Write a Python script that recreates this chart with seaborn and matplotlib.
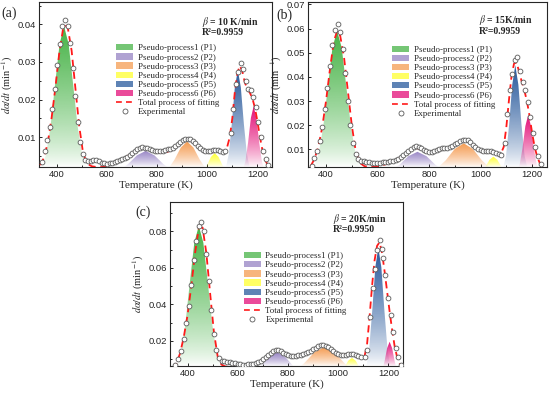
import numpy as np
import matplotlib
matplotlib.use("Agg")
import matplotlib.pyplot as plt
import matplotlib.colors as mcolors
from matplotlib.patches import Patch
from matplotlib.lines import Line2D
from matplotlib.ticker import MultipleLocator
import seaborn as sns

# ---------------- data ----------------
labels = ["Pseudo-process1 (P1)", "Pseudo-process2 (P2)", "Pseudo-process3 (P3)",
          "Pseudo-process4 (P4)", "Pseudo-process5 (P5)", "Pseudo-process6 (P6)"]
peak_colors = ["#47b347", "#9683c4", "#f59c52", "#ffff30", "#28599c", "#e30f78"]

# (a) 10 K/min
a_exp_T = [343, 353, 363, 373, 383, 393, 403, 413, 421, 433, 444, 453, 464, 475, 484, 495, 504, 515,
           525, 536, 547, 557, 568, 579, 589, 600, 611, 621, 632, 642, 652, 662, 672, 682, 692, 702,
           712, 722, 732, 742, 752, 762, 772, 782, 792, 802, 812, 822, 832, 842, 852, 862, 872, 882,
           892, 902, 912, 922, 932, 942, 952, 962, 972, 982, 992, 1002, 1012, 1022, 1032, 1042, 1052,
           1062, 1072, 1093, 1104, 1113, 1123, 1133, 1143, 1153, 1163, 1173, 1183, 1193, 1203, 1213,
           1223, 1233, 1244]
a_exp = [0.0034, 0.0062, 0.0093, 0.0127, 0.0174, 0.0229, 0.0291, 0.0348, 0.0395, 0.0412, 0.0397,
         0.0350, 0.0284, 0.0209, 0.0141, 0.0088, 0.0055, 0.0040, 0.0037, 0.0035, 0.0038, 0.0040,
         0.0036, 0.0032, 0.0030, 0.0029, 0.0030, 0.0032, 0.0034, 0.0036, 0.0038, 0.0041, 0.0044,
         0.0048, 0.0052, 0.0057, 0.0062, 0.0067, 0.0071, 0.0073, 0.0072, 0.0071, 0.0068, 0.0065,
         0.0063, 0.0062, 0.0062, 0.0063, 0.0065, 0.0067, 0.0069, 0.0072, 0.0076, 0.0081, 0.0086,
         0.0091, 0.0094, 0.0095, 0.0094, 0.0090, 0.0084, 0.0077, 0.0070, 0.0065, 0.0062, 0.0062,
         0.0064, 0.0066, 0.0066, 0.0065, 0.0063, 0.0061, 0.0064, 0.0111, 0.0175, 0.0242, 0.0274,
         0.0298, 0.0282, 0.0249, 0.0229, 0.0226, 0.0207, 0.0180, 0.0140, 0.0100, 0.0064, 0.0042,
         0.0026]
a_fit_T = [335, 350, 365, 380, 395, 410, 425, 435, 445, 460, 475, 490, 505, 520, 540, 560, 580, 600,
           620, 640, 660, 680, 700, 720, 740, 760, 780, 800, 820, 840, 860, 880, 900, 920, 940, 960,
           980, 1000, 1020, 1040, 1060, 1075, 1090, 1100, 1110, 1120, 1130, 1140, 1150, 1160, 1170,
           1180, 1190, 1200, 1210, 1220, 1230, 1245]
a_fit = [0.0025, 0.0045, 0.0085, 0.0150, 0.0230, 0.0320, 0.0385, 0.0398, 0.0390, 0.0330, 0.0230,
         0.0130, 0.0060, 0.0030, 0.0022, 0.0020, 0.0020, 0.0022, 0.0026, 0.0032, 0.0040, 0.0048,
         0.0057, 0.0065, 0.0070, 0.0069, 0.0064, 0.0059, 0.0058, 0.0060, 0.0066, 0.0075, 0.0085,
         0.0091, 0.0088, 0.0078, 0.0067, 0.0060, 0.0059, 0.0061, 0.0060, 0.0062, 0.0100, 0.0150,
         0.0220, 0.0270, 0.0290, 0.0275, 0.0245, 0.0228, 0.0218, 0.0203, 0.0178, 0.0142, 0.0100,
         0.0065, 0.0040, 0.0020]
a_peaks_T = [[340, 358, 376, 394, 412, 430, 448, 466, 484, 502, 520],
             [615, 650, 685, 720, 755, 790, 825, 860, 895],
             [820, 845, 870, 895, 920, 945, 970, 995, 1020],
             [970, 985, 1000, 1015, 1030, 1045, 1060, 1075, 1090],
             [1062, 1074, 1086, 1098, 1110, 1122, 1134, 1146, 1158, 1170, 1182],
             [1141, 1152, 1163, 1174, 1185, 1196, 1207, 1218, 1229]]
a_peaks = [[0.0017, 0.0053, 0.0128, 0.0240, 0.0348, 0.0395, 0.0348, 0.0240, 0.0128, 0.0053, 0.0017],
           [0.00025, 0.0010, 0.0028, 0.0051, 0.0063, 0.0051, 0.0028, 0.0010, 0.00025],
           [0.0004, 0.0015, 0.0040, 0.0072, 0.0088, 0.0072, 0.0040, 0.0015, 0.0004],
           [0.00025, 0.0010, 0.0026, 0.0047, 0.0057, 0.0047, 0.0026, 0.0010, 0.00025],
           [0.0003, 0.0016, 0.0055, 0.0135, 0.0232, 0.0278, 0.0232, 0.0135, 0.0055, 0.0016, 0.0003],
           [0.0009, 0.0034, 0.0086, 0.0151, 0.0182, 0.0151, 0.0086, 0.0034, 0.0009]]

# (b) 15 K/min
b_exp_T = [345, 355, 365, 376, 385, 395, 405, 416, 425, 435, 445, 455, 465, 475, 485, 494, 505, 515,
           525, 535, 546, 556, 566, 577, 588, 599, 609, 620, 630, 640, 650, 660, 670, 680, 690, 700,
           710, 720, 730, 740, 750, 760, 770, 780, 790, 800, 810, 820, 830, 840, 850, 860, 870, 880,
           890, 900, 910, 920, 930, 940, 950, 960, 970, 980, 990, 1000, 1010, 1020, 1030, 1040, 1050,
           1060, 1070, 1080, 1094, 1103, 1113, 1124, 1133, 1143, 1153, 1164, 1173, 1183, 1193, 1202,
           1213, 1223, 1233]
b_exp = [0.0033, 0.0066, 0.0095, 0.0136, 0.0192, 0.0268, 0.0352, 0.0446, 0.0533, 0.0596, 0.0617,
         0.0586, 0.0515, 0.0414, 0.0301, 0.0200, 0.0125, 0.0082, 0.0060, 0.0053, 0.0050, 0.0049,
         0.0047, 0.0045, 0.0044, 0.0044, 0.0045, 0.0046, 0.0047, 0.0048, 0.0050, 0.0052, 0.0055,
         0.0060, 0.0067, 0.0075, 0.0084, 0.0094, 0.0103, 0.0109, 0.0112, 0.0110, 0.0105, 0.0098,
         0.0093, 0.0090, 0.0090, 0.0093, 0.0098, 0.0102, 0.0105, 0.0106, 0.0107, 0.0110, 0.0115,
         0.0121, 0.0128, 0.0134, 0.0138, 0.0140, 0.0137, 0.0130, 0.0120, 0.0110, 0.0102, 0.0096,
         0.0093, 0.0093, 0.0094, 0.0093, 0.0090, 0.0086, 0.0082, 0.0078, 0.0125, 0.0245, 0.0345,
         0.0411, 0.0469, 0.0483, 0.0426, 0.0377, 0.0345, 0.0294, 0.0232, 0.0166, 0.0108, 0.0072,
         0.0038]
b_fit_T = [340, 355, 370, 385, 400, 415, 430, 443, 455, 470, 485, 500, 515, 530, 550, 570, 590, 610,
           630, 650, 670, 690, 710, 730, 750, 770, 790, 810, 830, 850, 870, 890, 910, 930, 950, 970,
           990, 1010, 1030, 1050, 1065, 1080, 1090, 1100, 1110, 1120, 1130, 1140, 1150, 1160, 1170,
           1180, 1190, 1200, 1210, 1220, 1235]
b_fit = [0.0030, 0.0060, 0.0110, 0.0190, 0.0300, 0.0430, 0.0545, 0.0590, 0.0570, 0.0480, 0.0340,
         0.0200, 0.0095, 0.0045, 0.0030, 0.0027, 0.0028, 0.0032, 0.0038, 0.0045, 0.0055, 0.0068,
         0.0083, 0.0098, 0.0106, 0.0100, 0.0090, 0.0087, 0.0092, 0.0100, 0.0106, 0.0113, 0.0124,
         0.0133, 0.0132, 0.0118, 0.0102, 0.0093, 0.0092, 0.0090, 0.0084, 0.0085, 0.0110, 0.0190,
         0.0300, 0.0400, 0.0455, 0.0460, 0.0420, 0.0380, 0.0345, 0.0300, 0.0240, 0.0170, 0.0110,
         0.0070, 0.0030]
b_peaks_T = [[353, 371, 389, 407, 425, 443, 461, 479, 497, 515, 533],
             [615, 650, 685, 720, 755, 790, 825, 860, 895],
             [795, 830, 865, 900, 935, 970, 1005, 1040, 1075],
             [990, 1005, 1020, 1035, 1050, 1065, 1080, 1095, 1110],
             [1087, 1099, 1111, 1123, 1135, 1147, 1159, 1171, 1183],
             [1141, 1152, 1163, 1174, 1185, 1196, 1207, 1218, 1229]]
b_peaks = [[0.0026, 0.0080, 0.0192, 0.0358, 0.0521, 0.0590, 0.0521, 0.0358, 0.0192, 0.0080, 0.0026],
           [0.0002, 0.0012, 0.0036, 0.0072, 0.0090, 0.0072, 0.0036, 0.0012, 0.0002],
           [0.0005, 0.0020, 0.0055, 0.0102, 0.0125, 0.0102, 0.0055, 0.0020, 0.0005],
           [0.0002, 0.0010, 0.0030, 0.0057, 0.0070, 0.0057, 0.0030, 0.0010, 0.0002],
           [0.0018, 0.0074, 0.0202, 0.0367, 0.0448, 0.0367, 0.0202, 0.0074, 0.0018],
           [0.0008, 0.0037, 0.0105, 0.0196, 0.0242, 0.0196, 0.0105, 0.0037, 0.0008]]

# (c) 20 K/min
c_exp_T = [351, 363, 373, 384, 395, 404, 413, 424, 433, 444, 453, 464, 475, 485, 495, 505, 515, 525,
           536, 547, 557, 568, 579, 589, 600, 611, 621, 631, 641, 651, 661, 671, 681, 691, 701, 711,
           721, 731, 741, 751, 761, 771, 781, 791, 801, 811, 821, 831, 841, 851, 861, 871, 881, 891,
           901, 911, 921, 931, 941, 951, 961, 971, 981, 991, 1001, 1011, 1021, 1031, 1041, 1051, 1061,
           1071, 1081, 1091, 1105, 1116, 1126, 1137, 1146, 1156, 1167, 1174, 1180, 1188, 1199, 1210,
           1220, 1230, 1240, 1250]
c_exp = [0.0070, 0.0103, 0.0145, 0.0209, 0.0295, 0.0393, 0.0508, 0.0641, 0.0749, 0.0827, 0.0851,
         0.0802, 0.0678, 0.0530, 0.0368, 0.0236, 0.0152, 0.0107, 0.0090, 0.0088, 0.0086, 0.0085,
         0.0081, 0.0077, 0.0074, 0.0072, 0.0070, 0.0070, 0.0071, 0.0073, 0.0075, 0.0079, 0.0084,
         0.0091, 0.0099, 0.0110, 0.0122, 0.0134, 0.0144, 0.0150, 0.0150, 0.0144, 0.0135, 0.0127,
         0.0121, 0.0117, 0.0116, 0.0118, 0.0121, 0.0124, 0.0128, 0.0133, 0.0139, 0.0146, 0.0155,
         0.0163, 0.0170, 0.0175, 0.0177, 0.0174, 0.0166, 0.0155, 0.0143, 0.0133, 0.0127, 0.0124,
         0.0124, 0.0125, 0.0127, 0.0128, 0.0127, 0.0124, 0.0119, 0.0112, 0.0109, 0.0152, 0.0331,
         0.0490, 0.0596, 0.0696, 0.0751, 0.0705, 0.0654, 0.0560, 0.0437, 0.0344, 0.0249, 0.0160,
         0.0110, 0.0068]
c_fit_T = [340, 355, 370, 385, 400, 415, 430, 445, 460, 475, 490, 505, 520, 535, 550, 570, 590, 610,
           630, 650, 670, 690, 710, 730, 750, 770, 790, 810, 830, 850, 870, 890, 910, 930, 950, 970,
           990, 1010, 1030, 1050, 1070, 1090, 1105, 1115, 1125, 1135, 1145, 1155, 1165, 1175, 1185,
           1195, 1205, 1215, 1225, 1235, 1250]
c_fit = [0.0045, 0.0075, 0.0130, 0.0220, 0.0340, 0.0500, 0.0680, 0.0820, 0.0820, 0.0680, 0.0460,
         0.0250, 0.0115, 0.0070, 0.0060, 0.0058, 0.0060, 0.0064, 0.0068, 0.0072, 0.0078, 0.0088,
         0.0108, 0.0130, 0.0145, 0.0142, 0.0128, 0.0118, 0.0116, 0.0120, 0.0128, 0.0140, 0.0155,
         0.0168, 0.0170, 0.0156, 0.0135, 0.0125, 0.0124, 0.0126, 0.0122, 0.0112, 0.0115, 0.0180,
         0.0330, 0.0500, 0.0640, 0.0720, 0.0740, 0.0680, 0.0580, 0.0470, 0.0360, 0.0260, 0.0170,
         0.0110, 0.0060]
c_peaks_T = [[355, 373, 391, 409, 427, 445, 463, 481, 499, 517, 535],
             [652, 687, 722, 757, 792, 827, 862],
             [785, 825, 865, 905, 945, 985, 1025, 1065, 1105],
             [1010, 1025, 1040, 1055, 1070, 1085, 1100],
             [1100, 1112, 1124, 1136, 1148, 1160, 1172, 1184, 1196, 1208, 1220],
             [1175, 1185, 1195, 1205, 1215, 1225, 1235]]
c_peaks = [[0.0043, 0.0125, 0.0286, 0.0517, 0.0737, 0.0830, 0.0737, 0.0517, 0.0286, 0.0125, 0.0043],
           [0.0015, 0.0052, 0.0108, 0.0138, 0.0108, 0.0052, 0.0015],
           [0.0008, 0.0030, 0.0078, 0.0137, 0.0166, 0.0137, 0.0078, 0.0030, 0.0008],
           [0.0024, 0.0055, 0.0091, 0.0107, 0.0091, 0.0055, 0.0024],
           [0.0012, 0.0052, 0.0163, 0.0369, 0.0603, 0.0710, 0.0603, 0.0369, 0.0163, 0.0052, 0.0012],
           [0.0034, 0.0089, 0.0160, 0.0195, 0.0160, 0.0089, 0.0034]]

# ---------------- style ----------------
sns.set_theme(style="ticks")
plt.rcParams["font.family"] = ["Liberation Serif", "DejaVu Serif"]
plt.rcParams["mathtext.fontset"] = "stix"
plt.rcParams["axes.linewidth"] = 0.8


def gradient_peak(ax, x, y, color, ybot):
    # peak filled with a colour that fades to white towards the baseline
    poly = ax.fill_between(x, y, 0, facecolor="none", edgecolor="none")
    grad = np.zeros((200, 1, 4))
    grad[..., :3] = mcolors.to_rgb(color)
    grad[..., 3] = (np.linspace(1.0, 0.0, 200) ** 0.75)[:, None]
    im = ax.imshow(grad, aspect="auto", origin="upper", interpolation="bilinear",
                   extent=[min(x), max(x), ybot, max(y)], zorder=1)
    im.set_clip_path(poly.get_paths()[0], transform=ax.transData)


def draw_panel(ax, exp_T, exp_y, fit_T, fit_y, peaks_T, peaks_y, ylim, ymajor, yminor,
               beta, r2, leg_xy, txt_xy):
    for xs, ys, col in zip(peaks_T, peaks_y, peak_colors):
        gradient_peak(ax, xs, ys, col, ylim[0])
    sns.lineplot(x=fit_T, y=fit_y, ax=ax, color="#ff1a1a", lw=1.3,
                 linestyle=(0, (4, 2.6)), zorder=3)
    sns.scatterplot(x=exp_T, y=exp_y, ax=ax, marker="o", s=12, facecolor="white",
                    edgecolor="#5a5a5a", linewidth=0.6, zorder=4)
    ax.set_xlim(330, 1258)
    ax.set_ylim(*ylim)
    ax.xaxis.set_major_locator(MultipleLocator(200))
    ax.xaxis.set_minor_locator(MultipleLocator(100))
    ax.yaxis.set_major_locator(MultipleLocator(ymajor))
    if yminor:
        ax.yaxis.set_minor_locator(MultipleLocator(yminor))
    ax.tick_params(which="both", direction="in", width=0.7, pad=2)
    ax.tick_params(which="major", length=2.5)
    ax.tick_params(which="minor", length=1.5)
    for lab in ax.get_xticklabels() + ax.get_yticklabels():
        lab.set_fontfamily("Liberation Sans")
        lab.set_fontsize(6.8)
    for s in ax.spines.values():
        s.set_visible(True)
    ax.set_xlabel("Temperature (K)", fontsize=8, labelpad=1)
    ax.set_ylabel(r"$d\alpha/dt$ (min$^{-1}$)", fontsize=7.5, labelpad=2)

    ax.text(txt_xy[0], txt_xy[1], r"$\beta$ = " + beta, transform=ax.transAxes,
            fontsize=7, fontweight="bold", va="center")
    ax.text(txt_xy[0], txt_xy[1] - 0.065, "R²=" + r2, transform=ax.transAxes,
            fontsize=7, fontweight="bold", va="center")

    handles = [Patch(facecolor=c, edgecolor="none", alpha=0.75) for c in peak_colors]
    handles.append(Line2D([], [], color="#ff1a1a", lw=1.2, linestyle=(0, (3.5, 2.5))))
    handles.append(Line2D([], [], color="none", marker="o", markersize=3.6,
                          markerfacecolor="white", markeredgecolor="#5a5a5a", markeredgewidth=0.6))
    ax.legend(handles, labels + ["Total process of fitting", "Experimental"],
              loc="upper left", bbox_to_anchor=leg_xy, frameon=False, fontsize=6.4,
              handlelength=1.9, handleheight=0.7, handletextpad=0.5, labelspacing=0.1,
              borderpad=0.2, borderaxespad=0)


fig = plt.figure(figsize=(5.5, 3.93), dpi=100)
ax_a = fig.add_axes([0.0709, 0.575, 0.4236, 0.42])
ax_b = fig.add_axes([0.560, 0.575, 0.4345, 0.42])
ax_c = fig.add_axes([0.309, 0.069, 0.4236, 0.417])

draw_panel(ax_a, a_exp_T, a_exp, a_fit_T, a_fit, a_peaks_T, a_peaks, (0.002, 0.046), 0.01, 0.005,
           "10 K/min", "0.9959", (0.325, 0.755), (0.70, 0.878))
draw_panel(ax_b, b_exp_T, b_exp, b_fit_T, b_fit, b_peaks_T, b_peaks, (0.0027, 0.071), 0.01, None,
           "15K/min", "0.9959", (0.345, 0.745), (0.715, 0.888))
draw_panel(ax_c, c_exp_T, c_exp, c_fit_T, c_fit, c_peaks_T, c_peaks, (0.0063, 0.096), 0.02, 0.01,
           "20K/min", "0.9950", (0.31, 0.705), (0.70, 0.895))

fig.text(0.002, 0.967, "(a)", fontsize=10, va="center")
fig.text(0.503, 0.962, "(b)", fontsize=10, va="center")
fig.text(0.247, 0.460, "(c)", fontsize=10, va="center")

fig.savefig("out.png", dpi=100)
